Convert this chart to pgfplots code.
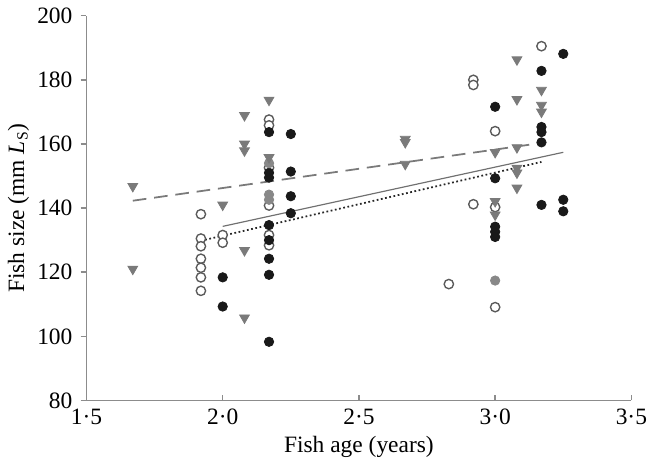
\documentclass[border=0pt]{standalone}
\usepackage{fontspec}
\setmainfont{Liberation Serif}
\usepackage{pgfplots}
\pgfplotsset{compat=1.18}
\definecolor{axisgray}{HTML}{8C8C8C}
\definecolor{opencol}{HTML}{5A5A5A}
\definecolor{trigray}{HTML}{7A7A7A}
\definecolor{midgray}{HTML}{888888}
\definecolor{linegray}{HTML}{707070}
\begin{document}
\fontsize{12}{14}\selectfont
\begin{tikzpicture}
\begin{axis}[
    scale only axis,
    width=279pt, height=197pt,
    xmin=1.5, xmax=3.5,
    ymin=80, ymax=200,
    axis x line*=bottom,
    axis y line*=left,
    xtick={1.5,2,2.5,3,3.5},
    xticklabels={1·5,2·0,2·5,3·0,3·5},
    xticklabel style={inner xsep=0pt},
    ytick={80,100,...,200},
    /pgf/number format/assume math mode=true,
    axis line style={axisgray, line width=0.8pt},
    tick style={axisgray, line width=0.8pt},
    xtick align=inside,
    ytick align=outside,
    major tick length=3pt,
    xlabel={Fish age (years)},
    ylabel={Fish size (mm \textit{L}\textsubscript{S})},
    xlabel style={yshift=2pt},
    ylabel style={yshift=-4pt},
    clip=false
]
% open circles
\addplot[only marks, mark=*, mark size=2.4pt,
    mark options={fill=white, draw=opencol, line width=0.7pt}] coordinates {
    (1.92,138.1) (1.92,130.5) (1.92,128.1) (1.92,124.2) (1.92,121.4) (1.92,118.4) (1.92,114.2)
    (2.0,131.6) (2.0,129.2)
    (2.17,167.6) (2.17,165.8) (2.17,152.6) (2.17,140.8) (2.17,131.6) (2.17,128.4)
    (2.83,116.3) (2.92,180.0) (2.92,178.4) (2.92,141.2)
    (3.0,164.0) (3.0,140.3) (3.0,109.1)
    (3.17,190.5)
};
% filled circles
\addplot[only marks, mark=*, mark size=2.4pt,
    mark options={fill=black!90, draw=black!90}] coordinates {
    (2.0,118.4) (2.0,109.3)
    (2.17,163.7) (2.17,151.0) (2.17,149.5) (2.17,134.7) (2.17,130.0) (2.17,124.2) (2.17,119.2) (2.17,98.3)
    (2.25,163.1) (2.25,151.4) (2.25,143.7) (2.25,138.4)
    (3.0,171.6) (3.0,149.3) (3.0,134.2) (3.0,132.6) (3.0,131.0)
    (3.17,182.8) (3.17,165.3) (3.17,163.7) (3.17,160.5) (3.17,141.0)
    (3.25,188.1) (3.25,142.6) (3.25,139.0)
};
% grey circles
\addplot[only marks, mark=*, mark size=2.4pt,
    mark options={fill=midgray, draw=midgray}] coordinates {
    (2.17,154.0) (2.17,144.2) (2.17,142.6) (3.0,117.4)
};
% triangles
\addplot[only marks, mark=triangle*, mark size=2.9pt,
    mark options={fill=trigray, draw=trigray, rotate=180}] coordinates {
    (1.67,146.8) (1.67,121.0)
    (2.0,141.0)
    (2.08,168.9) (2.08,160.0) (2.08,157.9) (2.08,126.8) (2.08,105.8)
    (2.17,173.7) (2.17,155.8)
    (2.67,161.5) (2.67,160.5) (2.67,153.7)
    (3.0,157.4) (3.0,142.1) (3.0,137.9)
    (3.08,186.3) (3.08,173.9) (3.08,158.9) (3.08,152.5) (3.08,151.0) (3.08,146.3)
    (3.17,176.8) (3.17,172.1) (3.17,170.0)
};
% regression lines
\addplot[trigray, line width=0.9pt, dash pattern=on 7pt off 4pt] coordinates {(1.67,142.3) (3.17,160.3)};
\addplot[linegray, line width=0.6pt] coordinates {(2.0,134.3) (3.25,157.4)};
\addplot[black!85, line width=0.9pt, dash pattern=on 0.9pt off 1.3pt] coordinates {(1.92,129.8) (3.17,154.4)};
\end{axis}
\end{tikzpicture}
\end{document}
